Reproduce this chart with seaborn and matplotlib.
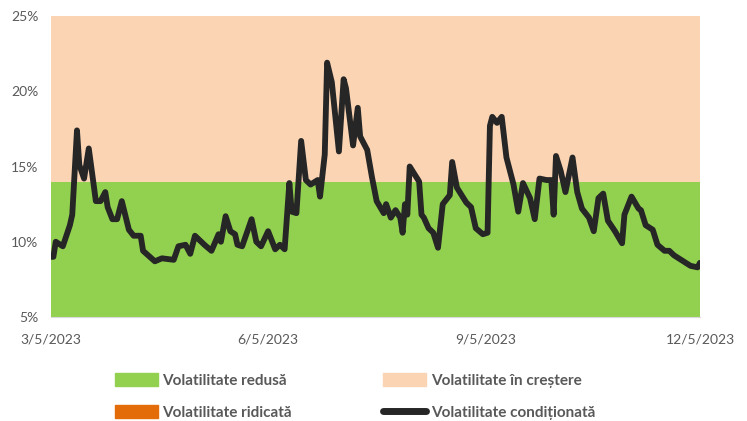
import pandas as pd
import numpy as np
import seaborn as sns
import matplotlib.pyplot as plt
from matplotlib.patches import Patch
from matplotlib.lines import Line2D
import matplotlib.dates as mdates
from matplotlib.ticker import FuncFormatter

# Conditional volatility (percent)
dates = [
    "2023-03-05", "2023-03-06", "2023-03-07", "2023-03-09", "2023-03-10", "2023-03-13",
    "2023-03-14", "2023-03-16", "2023-03-17", "2023-03-19", "2023-03-21", "2023-03-24",
    "2023-03-26", "2023-03-28", "2023-03-29", "2023-03-31", "2023-04-02", "2023-04-04",
    "2023-04-07", "2023-04-09", "2023-04-12", "2023-04-13", "2023-04-18", "2023-04-21",
    "2023-04-26", "2023-04-28", "2023-05-01", "2023-05-03", "2023-05-05", "2023-05-09",
    "2023-05-12", "2023-05-15", "2023-05-16", "2023-05-18", "2023-05-20", "2023-05-22",
    "2023-05-23", "2023-05-25", "2023-05-29", "2023-05-31", "2023-06-02", "2023-06-05",
    "2023-06-08", "2023-06-10", "2023-06-12", "2023-06-14", "2023-06-15", "2023-06-17",
    "2023-06-19", "2023-06-21", "2023-06-23", "2023-06-26", "2023-06-27", "2023-06-29",
    "2023-06-30", "2023-07-02", "2023-07-05", "2023-07-07", "2023-07-08", "2023-07-11",
    "2023-07-13", "2023-07-14", "2023-07-17", "2023-07-19", "2023-07-21", "2023-07-24",
    "2023-07-25", "2023-07-27", "2023-07-29", "2023-07-31", "2023-08-01", "2023-08-02",
    "2023-08-03", "2023-08-04", "2023-08-08", "2023-08-09", "2023-08-10", "2023-08-12",
    "2023-08-14", "2023-08-16", "2023-08-18", "2023-08-21", "2023-08-22", "2023-08-24",
    "2023-08-28", "2023-08-30", "2023-09-01", "2023-09-04", "2023-09-06", "2023-09-07",
    "2023-09-08", "2023-09-10", "2023-09-12", "2023-09-14", "2023-09-17", "2023-09-19",
    "2023-09-21", "2023-09-24", "2023-09-26", "2023-09-28", "2023-10-01", "2023-10-03",
    "2023-10-04", "2023-10-05", "2023-10-07", "2023-10-09", "2023-10-12", "2023-10-14",
    "2023-10-16", "2023-10-19", "2023-10-21", "2023-10-23", "2023-10-25", "2023-10-27",
    "2023-10-30", "2023-11-02", "2023-11-03", "2023-11-06", "2023-11-09", "2023-11-10",
    "2023-11-12", "2023-11-15", "2023-11-17", "2023-11-20", "2023-11-22", "2023-11-24",
    "2023-11-28", "2023-12-01", "2023-12-04", "2023-12-05",
]
cond_vol = [
    9.0, 9.0, 10.0, 9.8, 9.7, 11.1,
    11.8, 17.4, 15.1, 14.2, 16.2, 12.7,
    12.7, 13.3, 12.3, 11.5, 11.5, 12.7,
    10.8, 10.4, 10.4, 9.4, 8.7, 8.9,
    8.8, 9.7, 9.8, 9.2, 10.4, 9.8,
    9.4, 10.5, 10.0, 11.7, 10.7, 10.5,
    9.8, 9.7, 11.5, 10.0, 9.7, 10.7,
    9.5, 9.8, 9.5, 13.9, 12.0, 11.9,
    16.7, 14.1, 13.8, 14.1, 13.0, 15.8,
    21.9, 20.6, 16.0, 20.8, 20.2, 16.4,
    18.9, 17.0, 16.1, 14.3, 12.7, 11.9,
    12.5, 11.6, 12.1, 11.6, 10.6, 12.5,
    11.8, 15.0, 14.0, 11.8, 11.6, 10.9,
    10.6, 9.6, 12.5, 13.1, 15.3, 13.6,
    12.6, 12.3, 10.9, 10.5, 10.6, 17.7,
    18.3, 17.9, 18.3, 15.6, 13.8, 12.0,
    13.9, 12.9, 11.5, 14.2, 14.1, 14.1,
    11.8, 15.7, 14.7, 13.3, 15.6, 13.3,
    12.2, 11.6, 10.7, 12.9, 13.2, 11.4,
    10.7, 9.9, 11.8, 13.0, 12.2, 12.1,
    11.1, 10.8, 9.8, 9.4, 9.4, 9.1,
    8.7, 8.4, 8.3, 8.6,
]

# Regime bands (percent)
band_names = ["Volatilitate redusă", "Volatilitate în creștere", "Volatilitate ridicată"]
band_edges = [0, 14, 25, 100]
band_colors = ["#92D050", "#FBD4B4", "#E36C09"]
line_name = "Volatilitate condiționată"
x_ticks = ["2023-03-05", "2023-06-05", "2023-09-05", "2023-12-05"]

df = pd.DataFrame({"date": pd.to_datetime(dates), "vol": cond_vol})

sns.set_style("white")
plt.rcParams["font.family"] = ["Lato", "DejaVu Sans"]

fig = plt.figure(figsize=(7.47, 4.21), dpi=100)
ax = fig.add_axes([0.0683, 0.247, 0.8687, 0.715])

# coloured regime bands behind the line
for lo, hi, col in zip(band_edges[:-1], band_edges[1:], band_colors):
    ax.fill_between(df["date"], lo, hi, color=col, linewidth=0)

sns.lineplot(data=df, x="date", y="vol", ax=ax, color="#262626", linewidth=4.2,
             solid_capstyle="round", solid_joinstyle="round")

ax.set_ylim(5, 25)
ax.set_yticks([5, 10, 15, 20, 25])
ax.yaxis.set_major_formatter(FuncFormatter(lambda v, p: f"{v:.0f}%"))
ax.set_xlim(df["date"].iloc[0], df["date"].iloc[-1])
ax.set_xticks(pd.to_datetime(x_ticks))
ax.xaxis.set_major_formatter(FuncFormatter(
    lambda v, p: f"{mdates.num2date(v).month}/{mdates.num2date(v).day}/{mdates.num2date(v).year}"))
ax.set_xlabel("")
ax.set_ylabel("")
ax.tick_params(axis="both", labelsize=10, colors="#595959", length=0)
ax.tick_params(axis="y", pad=9)
ax.tick_params(axis="x", length=4, color="#D9D9D9", pad=8)
for s in ["top", "right", "left"]:
    ax.spines[s].set_visible(False)
ax.spines["bottom"].set_color("#D9D9D9")

handles = [
    Patch(color=band_colors[0], label=band_names[0]),
    Patch(color=band_colors[2], label=band_names[2]),
    Patch(color=band_colors[1], label=band_names[1]),
    Line2D([0], [0], color="#262626", linewidth=5, solid_capstyle="round", label=line_name),
]
leg = fig.legend(handles=handles, ncol=2, loc="upper left", bbox_to_anchor=(0.1454, 0.128),
                 frameon=False, handlelength=2.8, handleheight=0.9, handletextpad=0.3,
                 columnspacing=6.0, labelspacing=1.13, borderaxespad=0,
                 prop={"weight": "bold", "size": 11})
for t in leg.get_texts():
    t.set_color("#595959")

fig.savefig("out.png", dpi=100)
